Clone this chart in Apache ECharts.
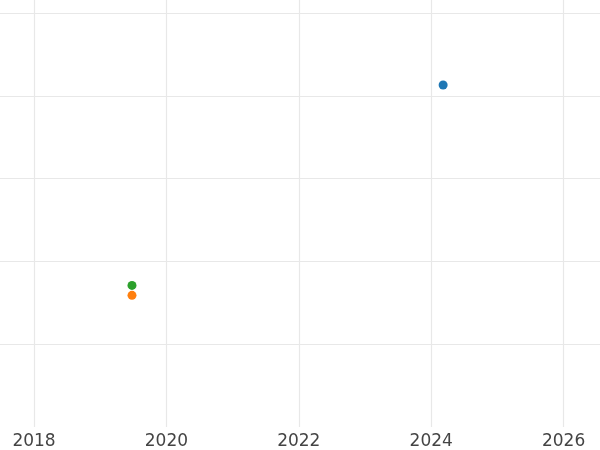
<!DOCTYPE html>
<html>
<head>
<meta charset="utf-8">
<script src="https://cdn.jsdelivr.net/npm/echarts@6/dist/echarts.min.js"></script>
<style>html,body{margin:0;padding:0;background:#fff}#c{width:600px;height:450px}</style>
</head>
<body>
<div id="c"></div>
<script>
const seriesNames = ['A', 'B', 'C'];
const seriesColors = ['#1f77b4', '#ff7f0e', '#2ca02c'];
const seriesX = [[2024.18], [2019.48], [2019.48]];
const seriesY = [[4.13], [1.59], [1.71]];
const xMin = 2017.486, xMax = 2026.55;
const yMin = 0, yMax = 5.157;

const chart = echarts.init(document.getElementById('c'));
chart.setOption({
  animation: false,
  backgroundColor: '#fff',
  grid: { left: 0, right: 0, top: 0, bottom: 22, containLabel: false },
  xAxis: {
    type: 'value', min: xMin, max: xMax, splitNumber: 5,
    axisLine: { show: false }, axisTick: { show: false },
    axisLabel: { showMinLabel: false, showMaxLabel: false, color: '#444', fontSize: 17,
      fontFamily: 'DejaVu Sans', margin: 6, formatter: v => String(Math.round(v)) },
    splitLine: { show: true, showMinLine: false, showMaxLine: false, lineStyle: { color: '#e8e8e8', width: 1.2 } }
  },
  yAxis: {
    type: 'value', min: yMin, max: yMax, interval: 1,
    axisLine: { show: false }, axisTick: { show: false }, axisLabel: { show: false },
    splitLine: { show: true, showMinLine: false, showMaxLine: false, lineStyle: { color: '#e8e8e8', width: 1.2 } }
  },
  series: seriesNames.map((n, i) => ({
    name: n, type: 'scatter', symbolSize: 9,
    itemStyle: { color: seriesColors[i], opacity: 1 },
    data: seriesX[i].map((x, j) => [x, seriesY[i][j]])
  }))
});
</script>
</body>
</html>
